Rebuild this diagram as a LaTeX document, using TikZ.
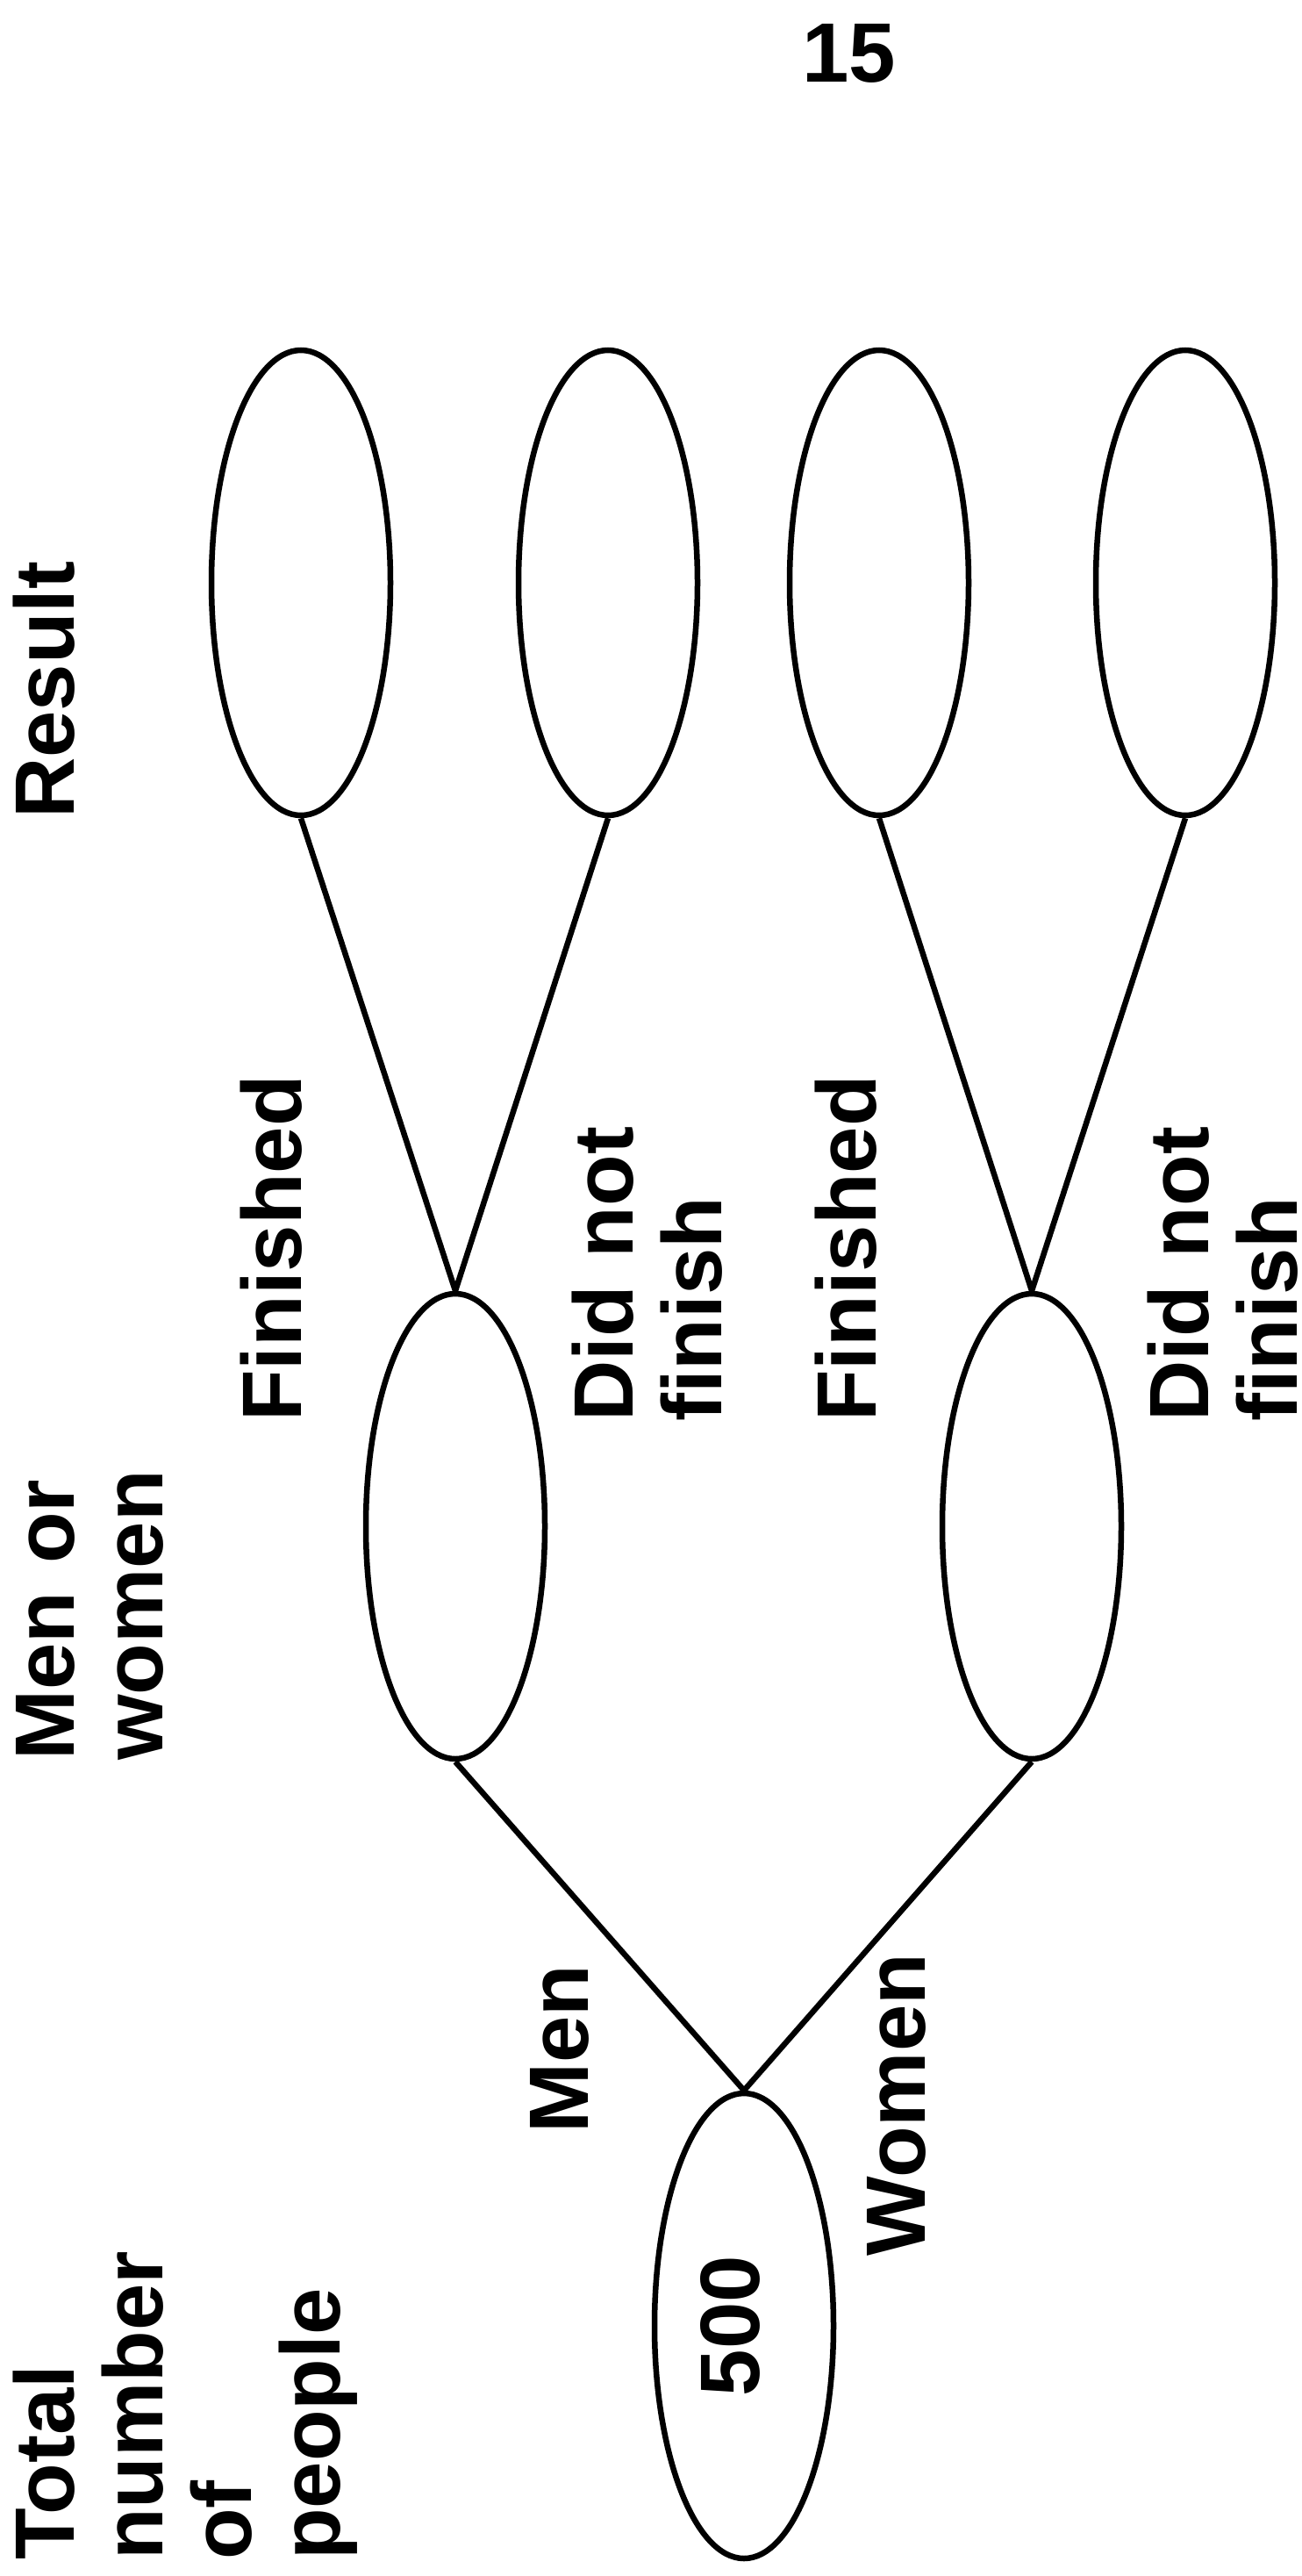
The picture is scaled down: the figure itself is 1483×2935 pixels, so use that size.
\documentclass[tikz,border=0pt]{standalone}
\usepackage{fontspec}
\setmainfont{Liberation Sans}
\usetikzlibrary{shapes.geometric}

\tikzset{
  oval/.style={draw=black, line width=6.5pt, ellipse, inner sep=0pt,
               minimum width=204pt, minimum height=530pt},
  branch/.style={draw=black, line width=6.5pt},
  txt/.style={font=\fontsize{96}{101}\selectfont\bfseries, inner sep=0pt},
  vlab/.style={txt, rotate=90, anchor=base west, align=left, text width=450pt},
}

\begin{document}
\begin{tikzpicture}[x=1pt, y=-1pt]
  \useasboundingbox (0,0) rectangle (1483,2935);

  % tree of ovals
  \node[oval] (root) at (848,2650) {};
  \node[oval] (men)  at (519,1739) {};
  \node[oval] (wom)  at (1176,1739) {};
  \node[oval] (mf)   at (343,664) {};
  \node[oval] (mdnf) at (693,664) {};
  \node[oval] (wf)   at (1002,664) {};
  \node[oval] (wdnf) at (1351,664) {};

  % branches
  \draw[branch] (root.north) -- (men.south);
  \draw[branch] (root.north) -- (wom.south);
  \draw[branch] (men.north) -- (mf.south);
  \draw[branch] (men.north) -- (mdnf.south);
  \draw[branch] (wom.north) -- (wf.south);
  \draw[branch] (wom.north) -- (wdnf.south);

  % value in the root oval
  \node[txt, rotate=90, anchor=center] (total) at (832,2650) {500};

  % page number
  \node[txt, anchor=base] (page) at (968,94) {15};

  % level headings
  \node[vlab] (hres)  at (84,933)  {Result};
  \node[vlab] (hsex)  at (84,2006) {Men or\\women};
  \node[vlab] (htot)  at (84,2917) {Total\\number\\of\\people};

  % branch labels
  \node[vlab] (lmen)  at (670,2431)  {Men};
  \node[vlab] (lwom)  at (1054,2571) {Women};
  \node[vlab] (lmf)   at (343,1620)  {Finished};
  \node[vlab] (lmdnf) at (721,1620)  {Did not\\finish};
  \node[vlab] (lwf)   at (998,1620)  {Finished};
  \node[vlab] (lwdnf) at (1377,1620) {Did not\\finish};
\end{tikzpicture}
\end{document}
